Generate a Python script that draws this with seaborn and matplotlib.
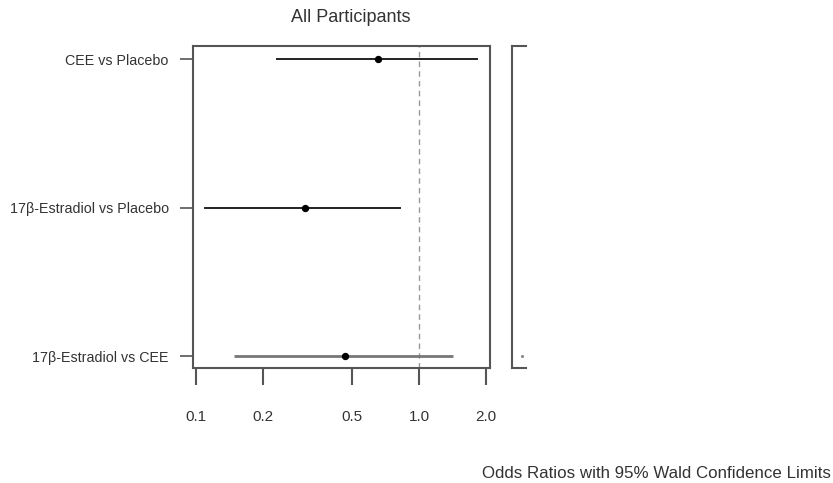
import numpy as np
import pandas as pd
import matplotlib
matplotlib.use("Agg")
import matplotlib.pyplot as plt
import seaborn as sns
from matplotlib import font_manager

comparisons = ["CEE vs Placebo", "17β-Estradiol vs Placebo", "17β-Estradiol vs CEE"]
odds_ratio = [0.655, 0.308, 0.466]
ci_lower = [0.229, 0.109, 0.148]
ci_upper = [1.84, 0.83, 1.42]
line_colors = ["#111111", "#111111", "#777777"]
x_ticks = [0.1, 0.2, 0.5, 1.0, 2.0]
x_tick_labels = ["0.1", "0.2", "0.5", "1.0", "2.0"]
panel2_visible = [np.nan, np.nan, 0.7]
title = "All Participants"
footer = "Odds Ratios with 95% Wald Confidence Limits"

sns.set_theme(style="white")
avail = {f.name for f in font_manager.fontManager.ttflist}
fam = [f for f in ["Liberation Sans", "DejaVu Sans"] if f in avail]
plt.rcParams["font.family"] = fam

df = pd.DataFrame({"comparison": comparisons, "or": odds_ratio,
                   "lo": ci_lower, "hi": ci_upper, "pos": range(len(comparisons))})

W, H = 833, 483
fig = plt.figure(figsize=(W / 100, H / 100), dpi=100)
ax = fig.add_axes([193 / W, 1 - 368 / H, (490 - 193) / W, (368 - 46) / H])

for i, r in df.iterrows():
    ax.hlines(r["pos"], r["lo"], r["hi"], color=line_colors[i],
              lw=1.3 if i < 2 else 2.0, zorder=2)
sns.scatterplot(data=df, x="or", y="pos", ax=ax, color="black", s=28,
                edgecolor="black", linewidth=0, zorder=3, legend=False)
ax.axvline(1.0, color="#999999", lw=1, ls=(0, (4, 3)), zorder=1)

ax.set_xscale("log")
ax.set_xlim(0.0969, 2.08)
ax.set_ylim(2.08, -0.088)
ax.set_xticks(x_ticks)
ax.set_xticklabels(x_tick_labels, fontsize=11, color="#333333")
ax.minorticks_off()
ax.set_yticks(df["pos"])
ax.set_yticklabels(df["comparison"], fontsize=10.3, color="#333333")
ax.tick_params(axis="x", length=12, width=1.5, color="#555555", pad=18, bottom=True)
ax.tick_params(axis="y", length=9.5, width=1.2, color="#555555", pad=8, left=True)
ax.set_xlabel("")
ax.set_ylabel("")
for s in ax.spines.values():
    s.set_color("#555555")
    s.set_linewidth(1.5)
    s.set_visible(True)

fig.text(351 / W, 1 - 17.5 / H, title, ha="center", va="center", fontsize=13, color="#333333")

# partially visible second panel
ax2 = fig.add_axes([512 / W, 1 - 368 / H, 14 / W, (368 - 46) / H])
ax2.set_xlim(0, 1)
ax2.set_ylim(2.08, -0.088)
sns.scatterplot(x=panel2_visible, y=df["pos"], ax=ax2, color="#888888", s=5,
                linewidth=0, legend=False)
ax2.set_xticks([])
ax2.set_yticks([])
ax2.set_xlabel("")
ax2.set_ylabel("")
for k, s in ax2.spines.items():
    s.set_color("#555555")
    s.set_linewidth(1.5)
ax2.spines["right"].set_visible(False)

fig.text(831 / W, 1 - 473 / H, footer, ha="right", va="center", fontsize=12.2, color="#333333")

fig.savefig("out.png", dpi=100, facecolor="white")
